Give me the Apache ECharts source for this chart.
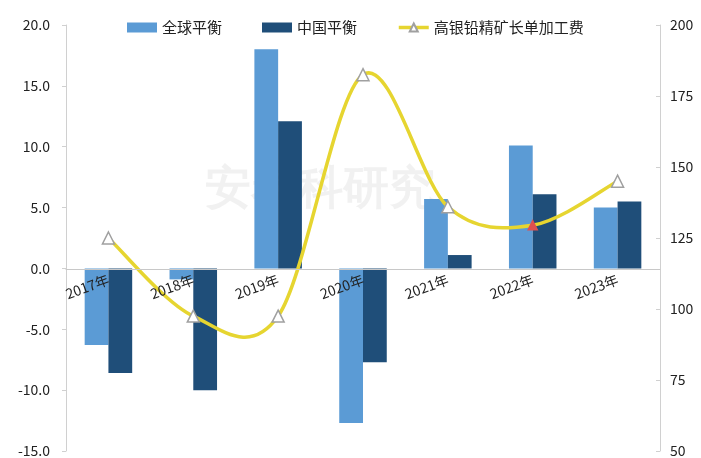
<!DOCTYPE html>
<html><head><meta charset="utf-8">
<script src="https://cdn.jsdelivr.net/npm/echarts@6/dist/echarts.min.js"></script>
<style>html,body{margin:0;padding:0;background:#fff}#c{width:701px;height:458px}</style>
</head><body><div id="c"></div>
<script>
const categories = ['2017年','2018年','2019年','2020年','2021年','2022年','2023年'];
const globalBalance = [-6.3, -0.9, 18.0, -12.7, 5.7, 10.1, 5.0];
const chinaBalance = [-8.6, -10.0, 12.1, -7.7, 1.1, 6.1, 5.5];
const tcFee = [125, 97.5, 97.5, 182.5, 136, 129.5, 145];
const leftTicks = [-15, 20, 5];
const rightTicks = [50, 200, 25];

const chart = echarts.init(document.getElementById('c'));
const font = '"Noto Sans CJK SC", "Noto Sans", sans-serif';
const lineColor = '#e6d530';

// Catmull-Rom style smooth curve through the data points (pixel coords from the axes)
function renderCurve(params, api) {
  if (params.dataIndex !== 0) return null;
  const pts = tcFee.map((v, i) => api.coord([i, v]));
  const n = pts.length;
  const path = [];
  path.push('M' + pts[0][0] + ' ' + pts[0][1]);
  for (let i = 0; i < n - 1; i++) {
    const p0 = pts[Math.max(i - 1, 0)], p1 = pts[i], p2 = pts[i + 1], p3 = pts[Math.min(i + 2, n - 1)];
    const c1 = [p1[0] + (p2[0] - p0[0]) / 6, p1[1] + (p2[1] - p0[1]) / 6];
    const c2 = [p2[0] - (p3[0] - p1[0]) / 6, p2[1] - (p3[1] - p1[1]) / 6];
    path.push('C' + c1[0] + ' ' + c1[1] + ' ' + c2[0] + ' ' + c2[1] + ' ' + p2[0] + ' ' + p2[1]);
  }
  return {
    type: 'path',
    shape: { pathData: path.join(' ') },
    style: { fill: null, stroke: lineColor, lineWidth: 3.5 }
  };
}

chart.setOption({
  animation: false,
  textStyle: { fontFamily: font },
  graphic: [{
    type: 'text', left: 205, top: 168, z: 0,
    style: { text: '安泰科研究', fontSize: 46, fontWeight: 'bold', fill: 'rgba(200,200,200,0.25)', fontFamily: 'serif' }
  }],
  legend: {
    top: 15, left: 122, itemGap: 40, itemWidth: 30, itemHeight: 10,
    textStyle: { fontSize: 15, color: '#222', fontFamily: font },
    data: [
      { name: '全球平衡', icon: 'rect' },
      { name: '中国平衡', icon: 'rect' },
      { name: '高银铅精矿长单加工费', lineStyle: { color: lineColor, width: 3.5, opacity: 1 } }
    ]
  },
  grid: { left: 66, right: 41, top: 25, bottom: 7, containLabel: false, outerBoundsMode: 'none' },
  xAxis: {
    type: 'category', data: categories,
    offset: -182, z: 10,
    axisLine: { onZero: false, lineStyle: { color: '#c8c8c8' } },
    axisTick: { show: false },
    axisLabel: { rotate: 20, fontSize: 14, color: '#222', margin: 10 }
  },
  yAxis: [{
    type: 'value', min: leftTicks[0], max: leftTicks[1], interval: leftTicks[2],
    axisLine: { show: true, lineStyle: { color: '#d0d0d0' } },
    axisTick: { show: true, length: 4, lineStyle: { color: '#d0d0d0' } },
    splitLine: { show: false },
    axisLabel: { fontSize: 14, color: '#222', margin: 16, formatter: v => v.toFixed(1) }
  }, {
    type: 'value', min: rightTicks[0], max: rightTicks[1], interval: rightTicks[2],
    axisLine: { show: true, lineStyle: { color: '#d0d0d0' } },
    axisTick: { show: true, inside: true, length: 4, lineStyle: { color: '#d0d0d0' } },
    splitLine: { show: false },
    axisLabel: { fontSize: 14, color: '#222', margin: 10 }
  }],
  series: [{
    name: '全球平衡', type: 'bar', data: globalBalance, barWidth: '28%', barGap: '0%',
    itemStyle: { color: '#5b9bd5' }
  }, {
    name: '中国平衡', type: 'bar', data: chinaBalance, barWidth: '28%',
    itemStyle: { color: '#1f4e79' }
  }, {
    name: 'curve', type: 'custom', yAxisIndex: 1, xAxisIndex: 0,
    data: tcFee.map((v, i) => [i, v]),
    renderItem: renderCurve, z: 4, silent: true
  }, {
    name: '高银铅精矿长单加工费', type: 'line', yAxisIndex: 1,
    data: tcFee.map((v, i) => i === 5 ? { value: v, symbolSize: 9, itemStyle: { color: '#e05050', borderColor: '#e05050' } } : v),
    symbol: 'triangle', symbolSize: 12,
    lineStyle: { color: lineColor, width: 3.5, opacity: 0 },
    itemStyle: { color: '#ffffff', borderColor: '#a0a0a0', borderWidth: 1.5 },
    z: 5
  }]
});
</script></body></html>
